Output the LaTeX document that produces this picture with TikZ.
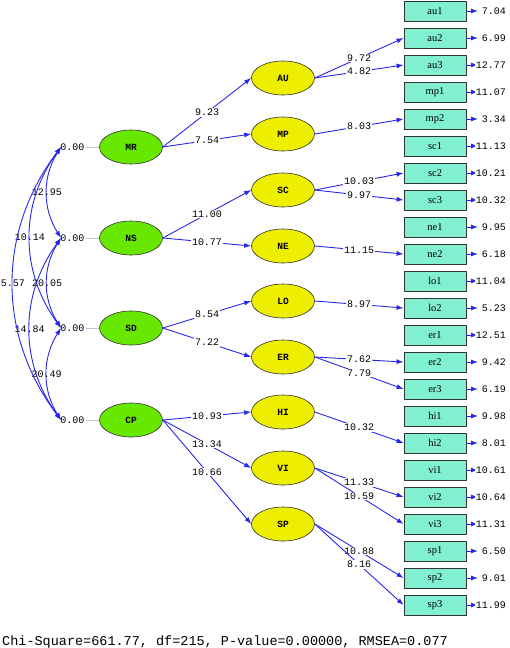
\documentclass[tikz,border=0pt]{standalone}
\usepackage{fontspec}
\setmainfont{Liberation Serif}
\setmonofont{Liberation Mono}
\usetikzlibrary{arrows.meta,shapes.geometric}
\definecolor{pathblue}{RGB}{40,40,235}
\definecolor{latgreen}{RGB}{104,232,0}
\definecolor{latyellow}{RGB}{238,238,0}
\definecolor{obscyan}{RGB}{128,240,208}
\definecolor{varline}{RGB}{185,200,220}
\begin{document}
\begin{tikzpicture}[x=1pt,y=-1pt,line join=round,>={Latex[length=7pt,width=5pt]},
    lat/.style={ellipse,draw=black!80,line width=0.6pt,minimum width=63pt,minimum height=34pt,inner sep=0pt,font=\ttfamily\bfseries\fontsize{9.5}{10}\selectfont},
    first/.style={lat,fill=latgreen},
    second/.style={lat,fill=latyellow},
    obs/.style={rectangle,draw=black!80,line width=0.8pt,fill=obscyan,minimum width=62pt,minimum height=20pt,inner sep=0pt,font=\fontsize{10.5}{11}\selectfont},
    num/.style={font=\ttfamily\fontsize{10}{11}\selectfont,inner sep=1pt,text=black},
    lab/.style={num,fill=white,pos=0.5},
    load/.style={draw=pathblue,line width=0.9pt,->}]
\useasboundingbox (0,0) rectangle (509,648);
% observed variables with error variances
\foreach \v/\e [count=\i from 0] in {au1/7.04,au2/6.99,au3/12.77,mp1/11.07,mp2/3.34,sc1/11.13,sc2/10.21,sc3/10.32,ne1/9.95,ne2/6.18,lo1/11.04,lo2/5.23,er1/12.51,er2/9.42,er3/6.19,hi1/9.98,hi2/8.01,vi1/10.61,vi2/10.64,vi3/11.31,sp1/6.50,sp2/9.01,sp3/11.99}{
    \node[obs] (\v) at (435,11+27*\i) {\v};
    \coordinate (e\v) at (478,11+27*\i);
    \draw[load] (\v.east) -- (e\v);
    \node[num,fill=white,anchor=east] (t\v) at (507,11+27*\i) {\e};
}
% first-order factors
\foreach \f/\y in {AU/78,MP/134,SC/190,NE/246,LO/301,ER/357,HI/412,VI/468,SP/524}
    \node[second] (\f) at (283,\y) {\f};
% second-order factors with variances
\foreach \f/\y in {MR/147,NS/238,SD/328,CP/420}{
    \node[first] (\f) at (131,\y) {\f};
    \node[num] (v\f) at (72.5,\y) {0.00};
    \coordinate (c\f) at (61,\y);
    \draw[varline,line width=0.8pt] (v\f.east) -- (\f.west);
}
% loadings
\foreach \a/\b/\t in {MR/AU/9.23,MR/MP/7.54,NS/SC/11.00,NS/NE/10.77,SD/LO/8.54,SD/ER/7.22,CP/HI/10.93,CP/VI/13.34,CP/SP/10.66}
    \draw[load] (\a.east) -- node[lab] (l\b) {\t} (\b.west);
\foreach \a/\b/\t in {AU/au2/9.72,AU/au3/4.82,MP/mp2/8.03,SC/sc2/10.03,SC/sc3/9.97,NE/ne2/11.15,LO/lo2/8.97,ER/er2/7.62,ER/er3/7.79,HI/hi2/10.32,VI/vi2/11.33,VI/vi3/10.59,SP/sp2/10.88,SP/sp3/8.16}
    \draw[load] (\a.east) -- node[lab] (l\b) {\t} (\b.west);
% covariances
\draw[load,<->] (cMR) to[bend right=32] node[num,pos=0.5] (kMN) {12.95} (cNS);
\draw[load,<->] (cNS) to[bend right=32] node[num,pos=0.5] (kNS) {20.05} (cSD);
\draw[load,<->] (cSD) to[bend right=32] node[num,pos=0.5] (kSC) {20.49} (cCP);
\draw[load,<->] (cMR) to[bend right=36] node[num,pos=0.5] (kMS) {10.14} (cSD);
\draw[load,<->] (cNS) to[bend right=36] node[num,pos=0.5] (kNC) {14.84} (cCP);
\draw[load,<->] (cMR) to[bend right=37] node[num,pos=0.5] (kMC) {5.57} (cCP);
\node[anchor=base west,inner sep=0pt,font=\ttfamily\fontsize{13.5}{15}\selectfont] (fit) at (2,645) {Chi-Square=661.77, df=215, P-value=0.00000, RMSEA=0.077};
\end{tikzpicture}
\end{document}
